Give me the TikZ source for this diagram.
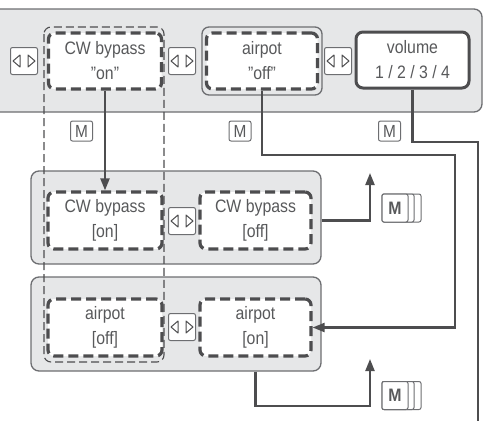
\documentclass[tikz,border=0pt]{standalone}
\usepackage{fontspec}
\setmainfont[FakeStretch=0.88]{Liberation Sans}
\usetikzlibrary{arrows.meta,calc}
\definecolor{bandfill}{HTML}{E6E7E8}
\definecolor{bandline}{HTML}{6D6E71}
\definecolor{dk}{HTML}{4D4D4F}
\definecolor{txt}{HTML}{58595B}
\begin{document}
\begin{tikzpicture}[x=1pt,y=-1pt,
 band/.style={draw=bandline, line width=1.3pt, fill=bandfill, rounded corners=8pt, inner sep=0pt},
 qbox/.style={draw=dk, line width=3.2pt, dash pattern=on 10pt off 5pt, fill=white, rounded corners=6pt, inner sep=0pt, minimum height=57pt, text=txt, align=center, font=\fontsize{18}{25}\selectfont},
 solidbox/.style={draw=dk, line width=3pt, fill=white, rounded corners=7pt, inner sep=0pt, text=txt, align=center, font=\fontsize{18}{25}\selectfont},
 lrbox/.style={draw=bandline, line width=1pt, fill=white, rounded corners=2pt, minimum width=27pt, minimum height=27pt, inner sep=0pt},
 tri/.style={draw=dk, line width=1pt, line join=round},
 mbox/.style={draw=bandline, line width=1pt, fill=white, rounded corners=2pt, minimum width=22pt, minimum height=20pt, inner sep=0pt, text=txt, font=\fontsize{17.5}{17.5}\selectfont},
 mcard/.style={draw=bandline, line width=1pt, fill=white, rounded corners=2pt, minimum height=28pt, inner sep=0pt, text=txt, font=\fontsize{18}{18}\selectfont\bfseries},
 column/.style={draw=dk, line width=1.1pt, dash pattern=on 8pt off 4pt, rounded corners=7pt},
 conn/.style={draw=dk, line width=2.2pt},
 arr/.style={-{Triangle[width=9pt,length=12pt]}}
]
\useasboundingbox (0,0) rectangle (483,421);

% bands
\node[band, minimum width=492pt, minimum height=103pt] (band1) at (236,60.5) {};
\node[band, minimum width=290pt, minimum height=93pt] (band2) at (176,217.5) {};
\node[band, minimum width=290pt, minimum height=94pt] (band3) at (176,324) {};

% column
\draw[column] (44,27) rectangle (164,362);

% top row
\node[lrbox] (lr1) at (24,61) {};
\node[qbox, minimum width=113pt, minimum height=56pt] (cwon) at (105,61) {CW bypass\\"on"};
\node[lrbox] (lr2) at (182,61) {};
\node[band, rounded corners=7pt, minimum width=120pt, minimum height=68pt] (apout) at (262,61) {};
\node[qbox, minimum width=111pt, minimum height=56pt] (apoff) at (262,61) {airpot\\"off"};
\node[lrbox] (lr3) at (338,61) {};
\node[solidbox, minimum width=113pt, minimum height=56pt] (vol) at (412.5,60) {volume\\1 / 2 / 3 / 4};

\node[mbox] (m1) at (81.5,131) {M};
\node[mbox] (m2) at (240,131) {M};
\node[mbox] (m3) at (389.5,131) {M};

% row 2
\node[qbox, minimum width=114pt] (cwonB) at (105,220.5) {CW bypass\\{[on]}};
\node[lrbox] (lr4) at (182,221) {};
\node[qbox, minimum width=111pt] (cwoffB) at (255.5,220.5) {CW bypass\\{[off]}};

% row 3
\node[qbox, minimum width=114pt] (apoffB) at (105,327.5) {airpot\\{[off]}};
\node[lrbox] (lr5) at (182,327) {};
\node[qbox, minimum width=111pt] (aponB) at (255.5,327.5) {airpot\\{[on]}};

% lr symbols
\foreach \n in {lr1,lr2,lr3,lr4,lr5}{
  \draw[tri] ($(\n)+(-11,0)$) -- ++(7,-6) -- ++(0,12) -- cycle;
  \draw[tri] ($(\n)+(11,0)$) -- ++(-7,-6) -- ++(0,12) -- cycle;
}

% M stacks
\node[mcard, minimum width=39pt] (msa3) at (401.5,208) {};
\node[mcard, minimum width=32pt] (msa2) at (398,208) {};
\node[mcard, minimum width=26pt] (msa1) at (395,208) {M};
\node[mcard, minimum width=39pt] (msb3) at (401.5,395.5) {};
\node[mcard, minimum width=32pt] (msb2) at (398,395.5) {};
\node[mcard, minimum width=26pt] (msb1) at (395,395.5) {M};

% connector coordinates
\coordinate (c1) at (455,155);
\coordinate (c2) at (478,142);
\coordinate (c3) at (478,425);
\coordinate (up1) at (370,173);
\coordinate (c4) at (370,406);
\coordinate (up2) at (370,359);

% connectors
\draw[conn, arr] (cwon.south) -- (cwonB.north);
\draw[conn, arr] (apoff.south) |- (c1) |- (aponB.east);
\draw[conn] (vol.south) |- (c2) -- (c3);
\draw[conn, arr] (cwoffB.east -| band2.east) -| (up1);
\draw[conn, arr] (aponB.south |- band3.south) |- (c4) -- (up2);
\end{tikzpicture}
\end{document}
